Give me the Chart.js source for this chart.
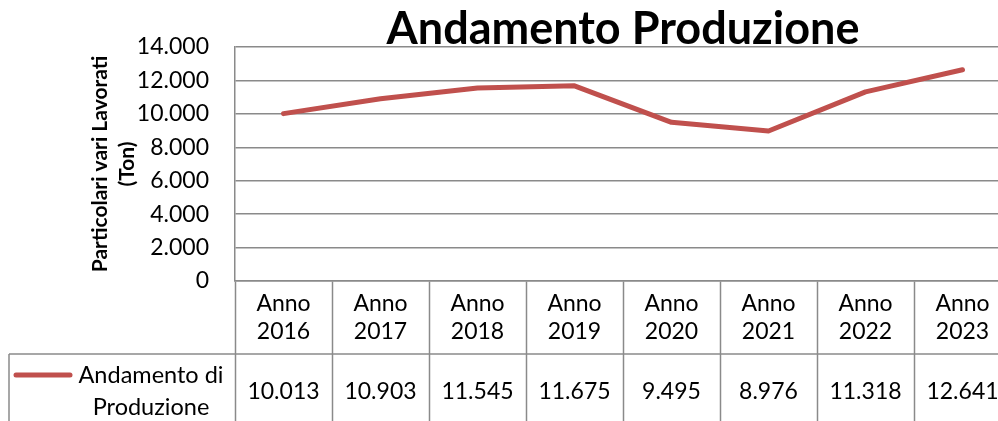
<!DOCTYPE html>
<html>
<head>
<meta charset="utf-8">
<script src="https://cdn.jsdelivr.net/npm/chart.js@4"></script>
<style>
  html, body { margin: 0; padding: 0; background: #fff; overflow: hidden; }
  #wrap { width: 1016px; height: 421px; }
</style>
</head>
<body>
<div id="wrap"><canvas id="lineChart" width="1016" height="421"></canvas></div>
<script>
const categories = ['Anno 2016', 'Anno 2017', 'Anno 2018', 'Anno 2019', 'Anno 2020', 'Anno 2021', 'Anno 2022', 'Anno 2023'];
const production = [10013, 10903, 11545, 11675, 9495, 8976, 11318, 12641];
const seriesName = ['Andamento di', 'Produzione'];
const yMin = 0, yMax = 14000, yStep = 2000;

const lineColor = '#C0504D';
const gridColor = '#8a8a8a';

// 12641 -> "12.641"
function fmt(n) {
    return String(n).replace(/\B(?=(\d{3})+(?!\d))/g, '.');
}

// draws the data table rows under the x axis (legend cell + values)
const dataTable = {
    id: 'dataTable',
    afterDraw(chart) {
        const { ctx, chartArea, scales: { x } } = chart;
        const rowTop = chartArea.bottom + 73;
        const bottom = chart.height;

        ctx.save();
        ctx.strokeStyle = gridColor;
        ctx.lineWidth = 1.5;
        ctx.beginPath();
        ctx.moveTo(9, rowTop);
        ctx.lineTo(chartArea.right, rowTop);
        ctx.moveTo(9, rowTop);
        ctx.lineTo(9, bottom);
        ctx.stroke();

        // legend key
        ctx.strokeStyle = lineColor;
        ctx.lineWidth = 5;
        ctx.lineCap = 'round';
        ctx.beginPath();
        ctx.moveTo(16, rowTop + 21);
        ctx.lineTo(70, rowTop + 21);
        ctx.stroke();

        ctx.fillStyle = '#000';
        ctx.font = '23.5px Lato';
        ctx.textAlign = 'center';
        ctx.textBaseline = 'middle';
        ctx.fillText(seriesName[0], 151, rowTop + 21);
        ctx.fillText(seriesName[1], 151, rowTop + 53);

        ctx.font = '23px Lato';
        production.forEach((v, i) => {
            ctx.fillText(fmt(v), x.getPixelForValue(i), rowTop + 38);
        });
        ctx.restore();
    }
};

const ctx = document.getElementById('lineChart').getContext('2d');
new Chart(ctx, {
    type: 'line',
    data: {
        labels: categories,
        datasets: [{
            label: seriesName.join(' '),
            data: production,
            borderColor: lineColor,
            borderWidth: 5,
            pointRadius: 0,
            tension: 0,
            borderCapStyle: 'round',
            borderJoinStyle: 'round'
        }]
    },
    options: {
        responsive: false,
        animation: false,
        layout: { padding: { left: 87, right: 5, top: 0, bottom: 0 } },
        plugins: {
            legend: { display: false },
            tooltip: { enabled: false },
            title: {
                display: true,
                text: 'Andamento Produzione',
                fullSize: false,
                color: '#000',
                font: { family: 'Lato', size: 45, weight: 'bold', lineHeight: 1.2 },
                padding: { top: 2, bottom: -9 }
            }
        },
        scales: {
            x: {
                offset: true,
                grid: {
                    offset: true,
                    drawOnChartArea: false,
                    drawTicks: true,
                    tickLength: 140,
                    tickColor: gridColor,
                    tickWidth: 1.5
                },
                border: { display: true, color: gridColor, width: 1.5 },
                ticks: {
                    color: '#000',
                    font: { family: 'Lato', size: 23, lineHeight: '28px' },
                    padding: -131,
                    maxRotation: 0,
                    autoSkip: false,
                    callback: (v, i) => categories[i].split(' ')
                },
                afterFit: s => { s.height = 140; }
            },
            y: {
                min: yMin,
                max: yMax,
                ticks: {
                    stepSize: yStep,
                    padding: 26,
                    color: '#000',
                    font: { family: 'Lato', size: 23 },
                    callback: v => fmt(v)
                },
                grid: { color: gridColor, lineWidth: 1.5, drawTicks: false },
                border: { display: true, color: gridColor, width: 1.5 },
                title: {
                    display: true,
                    text: ['Particolari vari Lavorati', '(Ton)'],
                    color: '#000',
                    font: { family: 'Lato', size: 21, weight: 'bold', lineHeight: '27px' },
                    padding: { top: 0, bottom: 0 }
                },
                afterFit: s => { s.width = 148; }
            }
        }
    },
    plugins: [dataTable]
});
</script>
</body>
</html>
